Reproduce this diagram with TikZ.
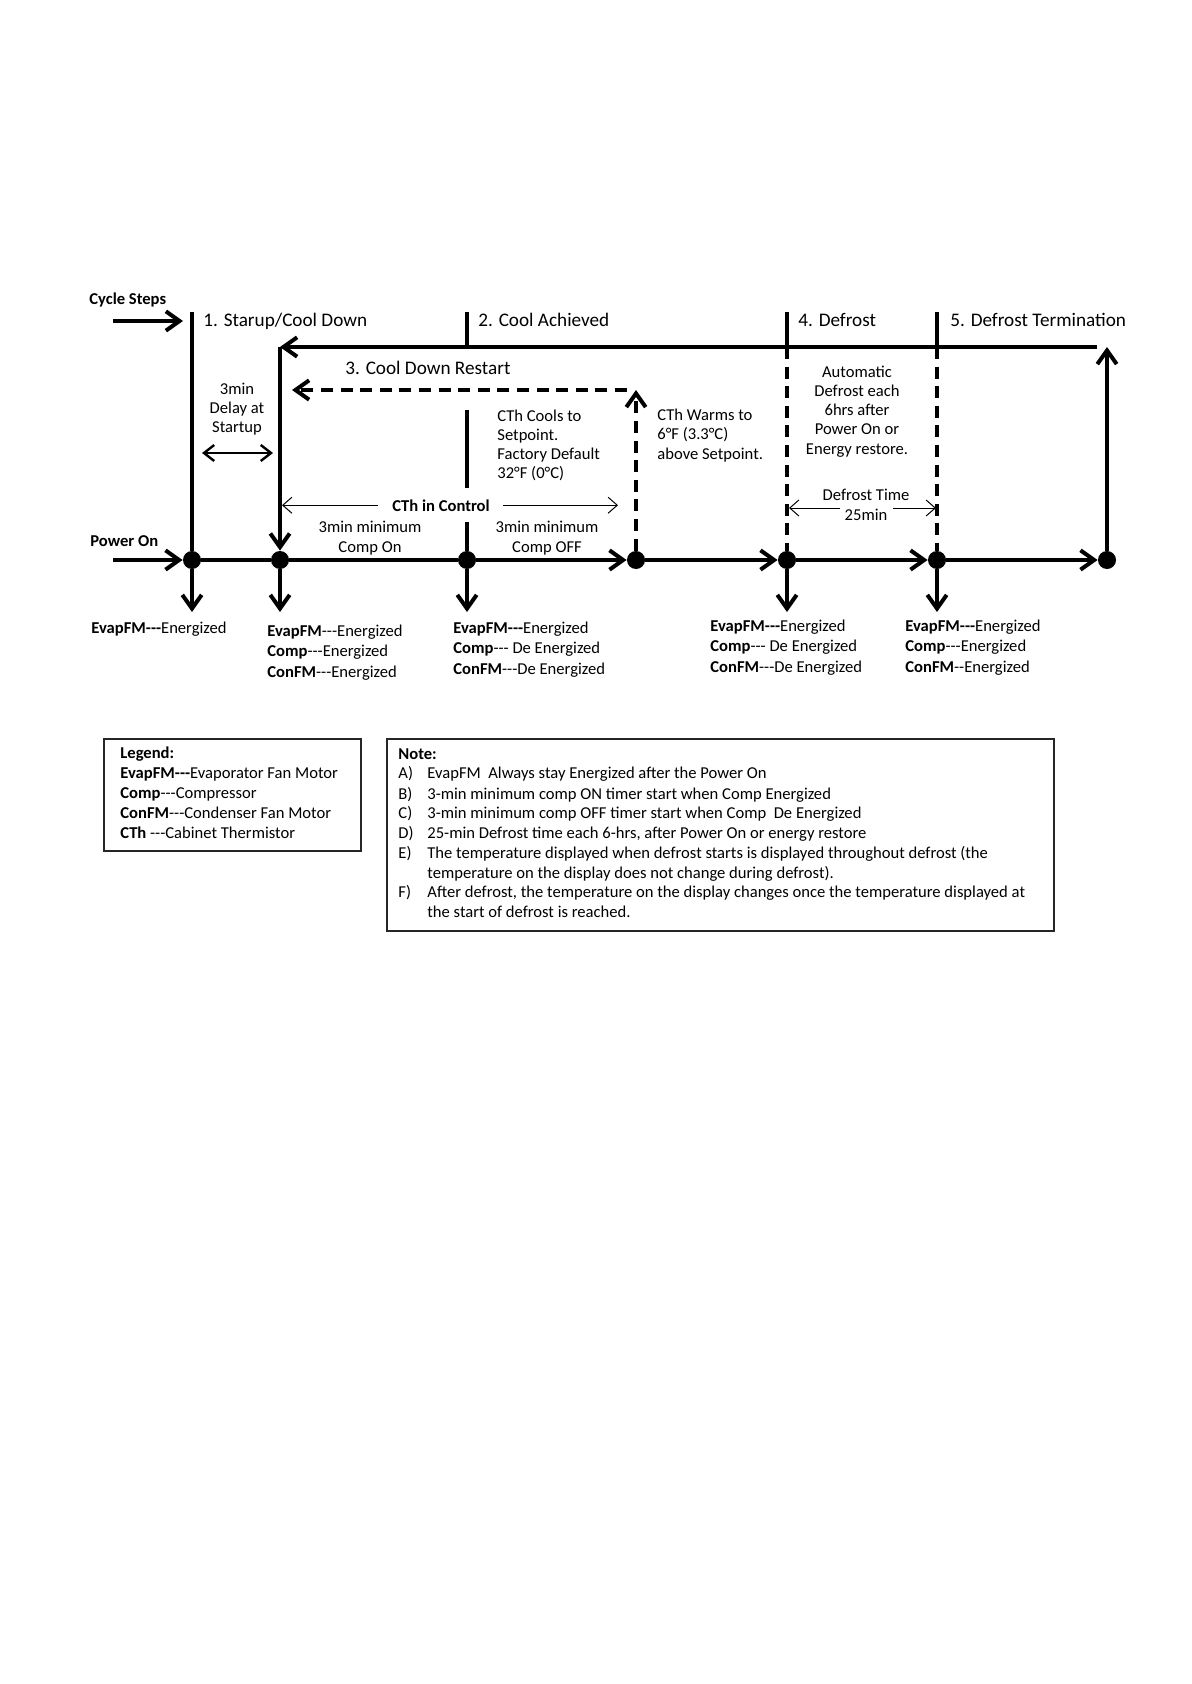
\documentclass[tikz,border=0pt]{standalone}
\usepackage{fontspec}
\setmainfont{Carlito}
\usetikzlibrary{arrows.meta,positioning,calc}
\definecolor{Ink}{HTML}{000000}
\newcommand\thrd{-{}-{}-}
\newcommand\smallfont{\fontsize{8.3}{9.6}\selectfont}
\newcommand\titlefont{\fontsize{9.6}{11}\selectfont}
\newcommand\notefont{\fontsize{8.3}{9.9}\selectfont}
\tikzset{
 mainline/.style={draw=Ink,line width=2pt},
 arr/.style={mainline,-{Straight Barb[length=2.4mm,width=3.4mm]}},
 dline/.style={mainline,dash pattern=on 6pt off 3.8pt},
 darr/.style={arr,dash pattern=on 6pt off 3.8pt},
 twoway/.style={draw=Ink,line width=1.2pt,{Straight Barb[length=1.8mm,width=2.8mm]}-{Straight Barb[length=1.8mm,width=2.8mm]}},
 thinarr/.style={draw=Ink,line width=.5pt,-{Straight Barb[length=1.6mm,width=2.8mm]}},
 dot/.style={circle,fill=Ink,inner sep=0pt,minimum size=9pt},
 ttl/.style={font=\titlefont,anchor=base west,inner sep=0pt},
 lbl/.style={font=\smallfont,align=center,anchor=base,inner sep=0pt},
 info/.style={font=\smallfont,align=left,anchor=base west,inner sep=0pt},
 stateinfo/.style={font=\fontsize{8.3}{10.2}\selectfont,align=left,anchor=base west,inner sep=0pt},
 boxframe/.style={draw=Ink!85,line width=.6pt}
}

\begin{document}
\begin{tikzpicture}[x=.5pt,y=-.5pt]
\useasboundingbox (0,0) rectangle (1191,1684);

% timeline dots and ends
\foreach \n/\x in {1/192,2/280,3/467,4/636,5/787,6/937,7/1107}
 \node[dot] (d\n) at (\x,560) {};
\foreach \n/\x in {1/192,2/280,3/467,5/787,6/937}
 \coordinate (b\n) at (\x,612);
\foreach \n/\x in {1/192,2/467,4/787,5/937} {
 \coordinate (t\n) at (\x,312);
 \coordinate (j\n) at (\x,347);
}
\coordinate (r2) at (280,347);
\coordinate (r7) at (1107,347);
\coordinate (rt) at (1097,347);
\coordinate (m2a) at (467,410);
\coordinate (m2b) at (467,488);
\coordinate (m2c) at (467,522);

% step lines
\draw[mainline] (t1) -- (d1);
\draw[mainline] (t2) -- (j2);
\draw[mainline] (m2a) -- (m2b);
\draw[mainline] (m2c) -- (d3);
\draw[mainline] (t4) -- (j4);
\draw[dline] (j4) -- (d5);
\draw[mainline] (t5) -- (j5);
\draw[dline] (j5) -- (d6);

% timeline
\coordinate (pw) at (113,560);
\draw[arr] (pw) -- (d1);
\draw[mainline] (d1) -- (d2) -- (d3);
\foreach \a/\b in {3/4,4/5,5/6,6/7} \draw[arr] (d\a) -- (d\b);
\foreach \n in {1,2,3,5,6} \draw[arr] (d\n) -- (b\n);

% return path
\draw[arr] (d7) -- (r7);
\draw[arr] (rt) -- (r2);
\draw[arr] (r2) -- (d2);

% cool down restart
\coordinate (w4) at (636,390);
\coordinate (w0) at (627,390);
\coordinate (w1) at (292,390);
\draw[darr] (d4) -- (w4);
\draw[darr] (w0) -- (w1);

% cycle steps
\coordinate (cs0) at (113,321);
\coordinate (cs1) at (183,321);
\draw[arr] (cs0) -- (cs1);
\node[info,font=\smallfont\bfseries] (cyc) at (89,305) {Cycle Steps};
\node[info,font=\smallfont\bfseries] (pon) at (90,546) {Power On};

\node[ttl] (s1) at (203,327) {1. Starup/Cool Down};
\node[ttl] (s2) at (478,327) {2. Cool Achieved};
\node[ttl] (s4) at (798,327) {4. Defrost};
\node[ttl] (s5) at (950,327) {5. Defrost Termination};
\node[ttl] (s3) at (345,375) {3. Cool Down Restart};

% labels between the lines (y is the last baseline)
\node[lbl] (delay) at (237,433) {3min\\Delay at\\Startup};
\coordinate (dy0) at (202,453);
\coordinate (dy1) at (273,453);
\draw[twoway] (dy0) -- (dy1);

\node[lbl,font=\smallfont\bfseries] (ctrl) at (441,511) {CTh in Control};
\coordinate (cl) at (ctrl.west -| r2);
\coordinate (cr) at (ctrl.east -| d4);
\draw[thinarr,shorten <=7pt,shorten >=1pt] (ctrl.west) -- (cl);
\draw[thinarr,shorten <=6.5pt,shorten >=9pt] (ctrl.east) -- (cr);

\node[lbl] (on) at (370,552) {3min minimum\\Comp On};
\node[lbl] (off) at (547,552) {3min minimum\\Comp OFF};
\node[info] (cool) at (497,479) {CTh Cools to\\Setpoint.\\Factory Default\\32°F (0°C)};
\node[info] (warm) at (657,459) {CTh Warms to\\6°F (3.3°C)\\above Setpoint.};
\node[lbl] (auto) at (857,454) {Automatic\\Defrost each\\6hrs after\\Power On or\\Energy restore.};

\node[lbl] (dtime) at (866,520) {Defrost Time\\25min};
\coordinate (dfa) at (840,508);
\coordinate (dfb) at (789,508);
\coordinate (dfc) at (893,508);
\coordinate (dfd) at (936,508);
\draw[thinarr] (dfa) -- (dfb);
\draw[thinarr] (dfc) -- (dfd);

% states under the timeline (y is the last baseline)
\node[stateinfo] (g1) at (91,633) {\textbf{EvapFM\thrd}Energized};
\node[stateinfo] (g2) at (267,677) {\textbf{EvapFM}\thrd Energized\\\textbf{Comp}\thrd Energized\\\textbf{ConFM}\thrd Energized};
\node[stateinfo] (g3) at (453,674) {\textbf{EvapFM\thrd}Energized\\\textbf{Comp}\thrd{} De Energized\\\textbf{ConFM}\thrd De Energized};
\node[stateinfo] (g4) at (710,672) {\textbf{EvapFM\thrd}Energized\\\textbf{Comp}\thrd{} De Energized\\\textbf{ConFM}\thrd De Energized};
\node[stateinfo] (g5) at (905,672) {\textbf{EvapFM\thrd}Energized\\\textbf{Comp}\thrd Energized\\\textbf{ConFM}-{}-Energized};

% legend
\coordinate (lg0) at (104,739);
\coordinate (lg1) at (361,851);
\draw[boxframe] (lg0) rectangle (lg1);
\node[info,font=\notefont] (legend) at (120,838) {\textbf{Legend:}\\\textbf{EvapFM\thrd}Evaporator Fan Motor\\\textbf{Comp}\thrd Compressor\\\textbf{ConFM}\thrd Condenser Fan Motor\\\textbf{CTh} \thrd Cabinet Thermistor};

% notes
\coordinate (nt0) at (387,739);
\coordinate (nt1) at (1054,931);
\draw[boxframe] (nt0) rectangle (nt1);
\node[info,font=\notefont\bfseries] (note) at (398,759) {Note:};
\foreach \k/\y/\z/\txt in {A/778/778/{EvapFM\ \ Always stay Energized after the Power On},
 B/799/799/{3-min minimum comp ON timer start when Comp Energized},
 C/818/818/{3-min minimum comp OFF timer start when Comp\ \ De Energized},
 D/838/838/{25-min Defrost time each 6-hrs, after Power On or energy restore},
 E/858/878/{The temperature displayed when defrost starts is displayed throughout defrost (the\\temperature on the display does not change during defrost).},
 F/897/917/{After defrost, the temperature on the display changes once the temperature displayed at\\the start of defrost is reached.}} {
 \node[info,font=\notefont] (lab\k) at (398,\y) {\k)};
 \node[info,font=\notefont] (item\k) at (427,\z) {\txt};
}
\end{tikzpicture}
\end{document}
